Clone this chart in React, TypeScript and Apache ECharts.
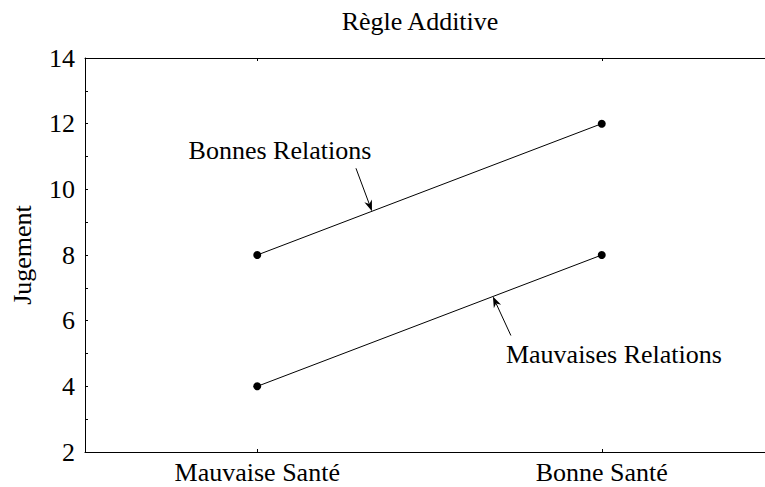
import React, { useEffect, useRef } from 'react';
import * as echarts from 'echarts';

const categories = ['Mauvaise Santé', 'Bonne Santé'];
const bonnesRelations = [8, 12];
const mauvaisesRelations = [4, 8];
const yMin = 2;
const yMax = 14;
const yInterval = 2;
const titleText = 'Règle Additive';
const yAxisName = 'Jugement';
const labelBonnes = 'Bonnes Relations';
const labelMauvaises = 'Mauvaises Relations';

const FONT = 'Liberation Serif, Times New Roman, serif';
const FS = 26;

export default function App() {
  const ref = useRef<HTMLDivElement>(null);
  useEffect(() => {
    document.body.style.margin = '0';
    if (!ref.current) return;
    const chart = echarts.init(ref.current, undefined, { renderer: 'svg' });
    const lineSeries = (name: string, data: number[]) => ({
      name,
      type: 'line',
      data,
      symbol: 'circle',
      symbolSize: 8,
      itemStyle: { color: '#000' },
      lineStyle: { color: '#000', width: 1 },
      silent: true,
    });
    chart.setOption({
      animation: false,
      backgroundColor: '#fff',
      textStyle: { fontFamily: FONT, color: '#000' },
      title: {
        text: titleText,
        left: 415,
        top: 3,
        textAlign: 'center',
        textStyle: { fontFamily: FONT, fontSize: FS, fontWeight: 'normal', color: '#000' },
      },
      grid: { left: 85, width: 689, top: 58, height: 394, outerBoundsMode: 'none' },
      xAxis: [
        {
          type: 'category',
          data: categories,
          position: 'bottom',
          axisLine: { show: true, lineStyle: { color: '#000', width: 1 } },
          axisTick: { show: true, inside: true, alignWithLabel: true, length: 3, lineStyle: { color: '#000' } },
          axisLabel: { fontFamily: FONT, fontSize: FS, color: '#000', margin: 7 },
          splitLine: { show: false },
        },
        {
          type: 'category',
          data: categories,
          position: 'top',
          axisLine: { show: true, lineStyle: { color: '#000', width: 1 } },
          axisTick: { show: true, inside: true, alignWithLabel: true, length: 3, lineStyle: { color: '#000' } },
          axisLabel: { show: false },
          splitLine: { show: false },
        },
      ],
      yAxis: {
        type: 'value',
        min: yMin,
        max: yMax,
        interval: yInterval,
        name: yAxisName,
        nameLocation: 'middle',
        nameRotate: 90,
        nameGap: 50,
        nameTextStyle: { fontFamily: FONT, fontSize: FS, color: '#000' },
        axisLine: { show: true, lineStyle: { color: '#000', width: 1 } },
        axisTick: { show: true, inside: true, length: 3, lineStyle: { color: '#000' } },
        minorTick: { show: true, splitNumber: 2, length: 3, lineStyle: { color: '#000' } },
        axisLabel: { fontFamily: FONT, fontSize: FS, color: '#000', margin: 10 },
        splitLine: { show: false },
      },
      series: [lineSeries(labelBonnes, bonnesRelations), lineSeries(labelMauvaises, mauvaisesRelations)],
    });

    const px = (i: number, v: number) => chart.convertToPixel({ xAxisIndex: 0, yAxisIndex: 0 }, [i, v]) as number[];
    const along = (data: number[], t: number) => {
      const a = px(0, data[0]);
      const b = px(1, data[1]);
      return [a[0] + (b[0] - a[0]) * t, a[1] + (b[1] - a[1]) * t];
    };
    const arrow = (tip: number[], dx: number, dy: number) => {
      const tail = [tip[0] + dx, tip[1] + dy];
      const len = Math.hypot(dx, dy);
      const ux = -dx / len, uy = -dy / len;
      const hl = 11, hw = 4;
      const base = [tip[0] - ux * hl, tip[1] - uy * hl];
      const inner = [tip[0] - ux * hl * 0.7, tip[1] - uy * hl * 0.7];
      return [
        { type: 'line', silent: true, shape: { x1: tail[0], y1: tail[1], x2: inner[0], y2: inner[1] }, style: { stroke: '#000', lineWidth: 1 } },
        {
          type: 'polygon',
          silent: true,
          shape: {
            points: [
              tip,
              [base[0] - uy * hw, base[1] + ux * hw],
              inner,
              [base[0] + uy * hw, base[1] - ux * hw],
            ],
          },
          style: { fill: '#000' },
        },
      ];
    };
    const tipB = along(bonnesRelations, 0.333);
    const tipM = along(mauvaisesRelations, 0.684);
    chart.setOption({
      graphic: [
        ...arrow(tipB, -16, -43),
        ...arrow(tipM, 18, 39),
        {
          type: 'text',
          silent: true,
          x: tipB[0] - 92,
          y: tipB[1] - 61,
          style: { text: labelBonnes, fontFamily: FONT, fontSize: FS, fill: '#000', align: 'center', verticalAlign: 'middle' },
        },
        {
          type: 'text',
          silent: true,
          x: tipM[0] + 121,
          y: tipM[1] + 58,
          style: { text: labelMauvaises, fontFamily: FONT, fontSize: FS, fill: '#000', align: 'center', verticalAlign: 'middle' },
        },
      ],
    });
    return () => chart.dispose();
  }, []);
  return <div ref={ref} style={{ width: 765, height: 487 }} />;
}
